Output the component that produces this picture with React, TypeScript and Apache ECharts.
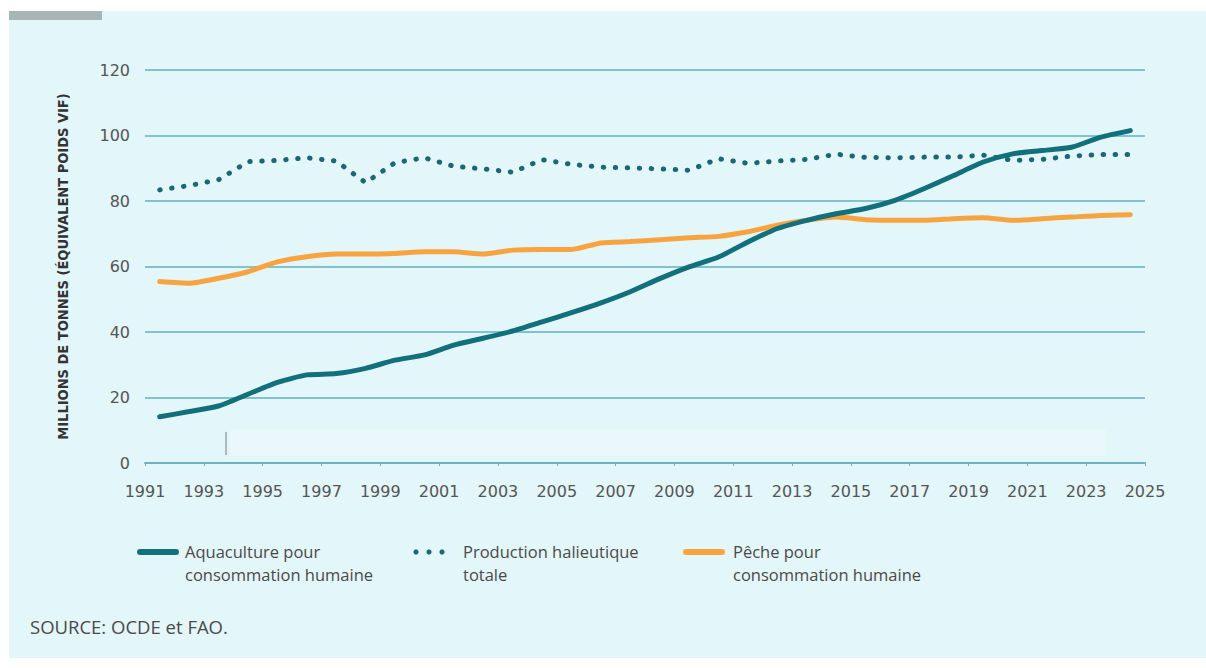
import React, { useEffect, useRef } from "react";
import * as echarts from "echarts";

const years = [
  1992, 1993, 1994, 1995, 1996, 1997, 1998, 1999, 2000, 2001, 2002, 2003,
  2004, 2005, 2006, 2007, 2008, 2009, 2010, 2011, 2012, 2013, 2014, 2015,
  2016, 2017, 2018, 2019, 2020, 2021, 2022, 2023, 2024, 2025,
];

const aquaculture = [
  14.1, 15.7, 17.4, 21.0, 24.6, 26.9, 27.3, 28.9, 31.4, 33.0, 36.0, 38.1,
  40.3, 43.1, 45.9, 48.9, 52.3, 56.3, 59.9, 62.9, 67.5, 71.6, 74.1, 76.1,
  77.7, 80.2, 83.8, 87.8, 91.9, 94.4, 95.4, 96.4, 99.5, 101.5,
];

const production = [
  83.4, 84.7, 86.5, 92.0, 92.4, 93.2, 92.2, 85.6, 91.7, 93.2, 90.6, 89.8,
  88.8, 92.6, 91.2, 90.3, 90.1, 89.8, 89.4, 92.9, 91.5, 92.2, 92.7, 94.3,
  93.3, 93.2, 93.4, 93.4, 94.0, 92.4, 92.7, 93.7, 94.2, 94.2,
];

const peche = [
  55.4, 54.9, 56.4, 58.4, 61.4, 63.0, 63.8, 63.8, 64.0, 64.5, 64.5, 63.8,
  65.0, 65.2, 65.2, 67.2, 67.6, 68.2, 68.8, 69.2, 70.6, 72.6, 74.1, 75.1,
  74.3, 74.1, 74.1, 74.6, 74.9, 74.1, 74.6, 75.1, 75.6, 75.8,
];

const seriesNames = [
  "Aquaculture pour\nconsommation humaine",
  "Production halieutique\ntotale",
  "Pêche pour\nconsommation humaine",
];

const yTicks = [0, 20, 40, 60, 80, 100, 120];
const xMin = 1991;
const xMax = 2025;

const TEAL = "#12707c";
const DOT = "#1b6874";
const ORANGE = "#f7a33f";
const GRID = "#80c3cd";
const TXT = "#4a4a4a";
const FONT = "'Open Sans', 'DejaVu Sans', sans-serif";
const NUMFONT = "'DejaVu Sans', sans-serif";

// points are centred in their year interval (year - 0.5)
const toPairs = (vals: number[]) => vals.map((v, i) => [years[i] - 0.5, v]);

export default function App() {
  const ref = useRef<HTMLDivElement>(null);

  useEffect(() => {
    document.body.style.margin = "0";
    const chart = echarts.init(ref.current!, null, { renderer: "svg" });

    const legendTextX = [185, 463, 733];
    const legendGraphics: any[] = [
      {
        type: "line",
        shape: { x1: 140, y1: 552, x2: 176, y2: 552 },
        style: { stroke: TEAL, lineWidth: 6, lineCap: "round" },
        silent: true,
      },
      ...[416, 429, 442].map((cx) => ({
        type: "circle",
        shape: { cx, cy: 552, r: 2.6 },
        style: { fill: DOT },
        silent: true,
      })),
      {
        type: "line",
        shape: { x1: 686, y1: 552, x2: 722, y2: 552 },
        style: { stroke: ORANGE, lineWidth: 6, lineCap: "round" },
        silent: true,
      },
      ...seriesNames.map((n, i) => ({
        type: "text",
        left: legendTextX[i],
        top: 540,
        style: {
          text: n,
          fill: TXT,
          font: `16.5px ${FONT}`,
          lineHeight: 23,
        },
      })),
    ];

    const option: any = {
      animation: false,
      backgroundColor: "#ffffff",
      graphic: [
        {
          type: "rect",
          z: -10,
          shape: { x: 9, y: 11, width: 1197, height: 647 },
          style: { fill: "#e3f6fa" },
          silent: true,
        },
        {
          type: "rect",
          z: -9,
          shape: { x: 9, y: 11, width: 93, height: 9 },
          style: { fill: "#a8b5b6" },
          silent: true,
        },
        {
          type: "rect",
          z: -9,
          shape: { x: 230, y: 430, width: 876, height: 26 },
          style: { fill: "#ffffff", opacity: 0.25 },
          silent: true,
        },
        {
          type: "line",
          z: 5,
          shape: { x1: 226, y1: 432, x2: 226, y2: 455 },
          style: { stroke: "#7a7a7a", lineWidth: 1 },
          silent: true,
        },
        {
          type: "text",
          left: 30,
          top: 617,
          style: {
            text: "SOURCE: OCDE et FAO.",
            fill: TXT,
            font: `18.5px ${FONT}`,
          },
        },
        ...legendGraphics,
      ],
      grid: { left: 145, right: 61, top: 70, bottom: 205 },
      xAxis: {
        type: "value",
        min: xMin,
        max: xMax,
        interval: 2,
        axisLine: { show: true, lineStyle: { color: "#6bb4bf", width: 2 } },
        axisTick: { show: true, length: 3, lineStyle: { color: "#6bb4bf" } },
        splitLine: { show: false },
        axisLabel: {
          color: "#555",
          fontSize: 16,
          fontFamily: NUMFONT,
          margin: 20,
          formatter: (v: number) => String(v),
        },
      },
      yAxis: {
        type: "value",
        min: yTicks[0],
        max: yTicks[yTicks.length - 1],
        interval: 20,
        name: "MILLIONS DE TONNES (ÉQUIVALENT POIDS VIF)",
        nameLocation: "middle",
        nameGap: 75,
        nameRotate: 90,
        nameTextStyle: {
          color: "#333",
          fontSize: 14.5,
          fontWeight: "bold",
          fontFamily: "'DejaVu Sans Condensed', 'DejaVu Sans', sans-serif",
        },
        axisLine: { show: false },
        axisTick: { show: false },
        axisLabel: {
          color: "#555",
          fontSize: 16,
          fontFamily: NUMFONT,
          margin: 15,
        },
        splitLine: { lineStyle: { color: GRID, width: 2 } },
      },
      series: [
        {
          name: seriesNames[0],
          type: "line",
          data: toPairs(aquaculture),
          showSymbol: false,
          smooth: 0.2,
          z: 4,
          itemStyle: { color: TEAL },
          lineStyle: { color: TEAL, width: 5, cap: "round" },
        },
        {
          name: seriesNames[1],
          type: "line",
          data: toPairs(production),
          showSymbol: false,
          z: 3,
          itemStyle: { color: DOT },
          lineStyle: {
            color: DOT,
            width: 5,
            type: [0.5, 11.5],
            cap: "round",
          },
        },
        {
          name: seriesNames[2],
          type: "line",
          data: toPairs(peche),
          showSymbol: false,
          smooth: 0.2,
          z: 2,
          itemStyle: { color: ORANGE },
          lineStyle: { color: ORANGE, width: 5, cap: "round" },
        },
      ],
    };
    chart.setOption(option);
    return () => chart.dispose();
  }, []);

  return (
    <div
      ref={ref}
      style={{ position: "fixed", left: 0, top: 0, width: 1206, height: 668 }}
    />
  );
}
